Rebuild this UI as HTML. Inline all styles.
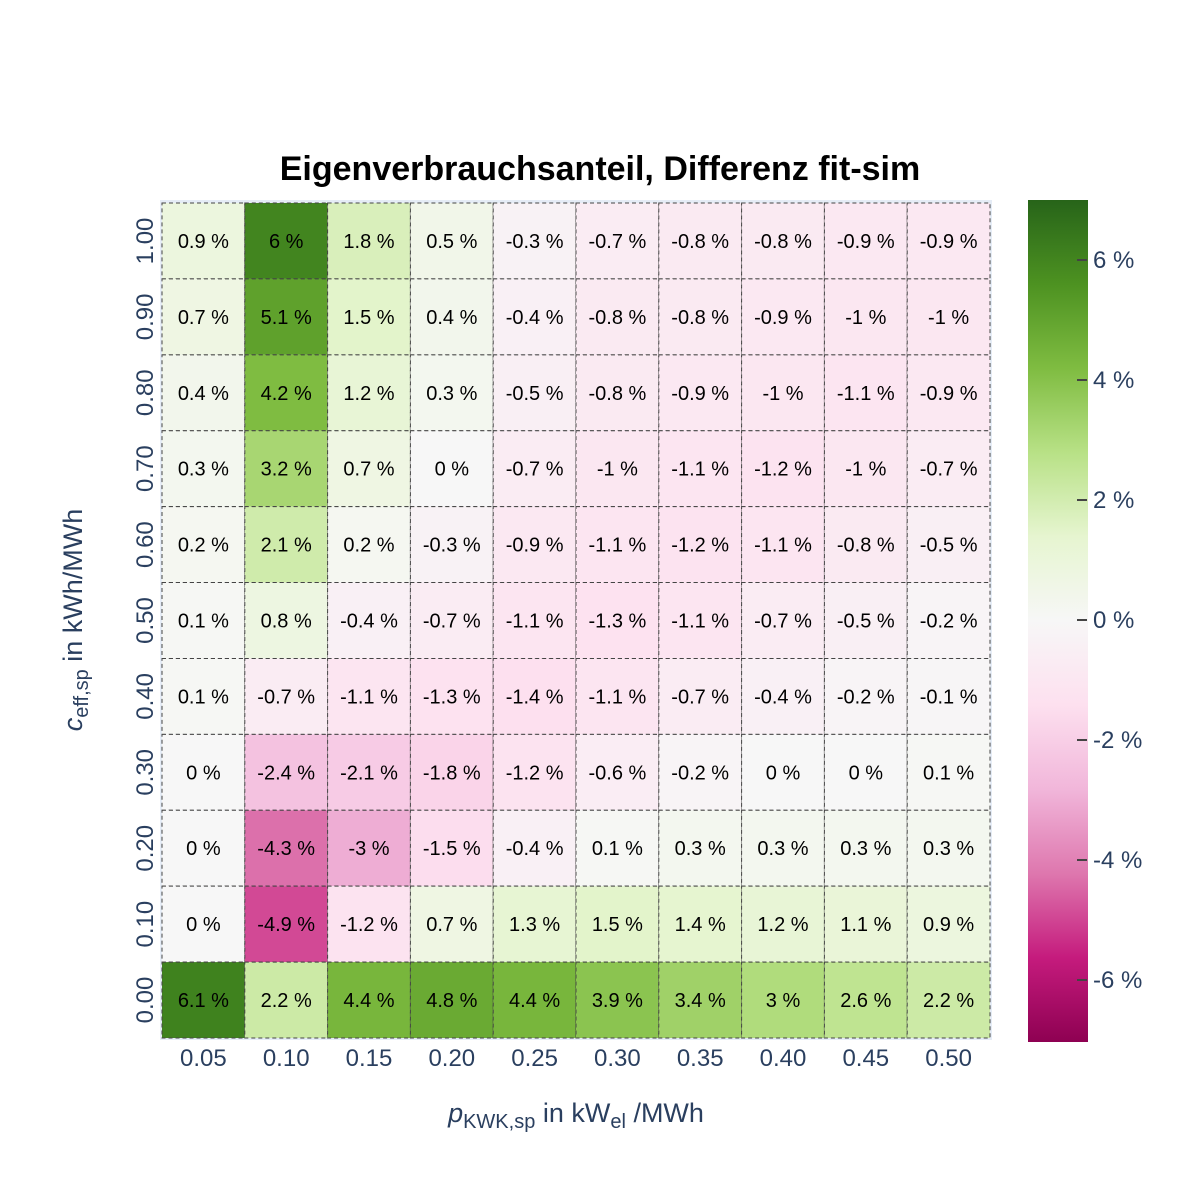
<!DOCTYPE html>
<html><head><meta charset="utf-8"><style>
html,body{margin:0;padding:0;background:#fff;font-family:"Liberation Sans",sans-serif;overflow:hidden}
svg{display:block}
</style></head><body>
<svg id="chart" width="1200" height="1200" xmlns="http://www.w3.org/2000/svg" font-family="Liberation Sans, sans-serif">
<defs>
<linearGradient id="cb" x1="0" y1="1" x2="0" y2="0">
<stop offset="0" stop-color="rgb(142,1,82)"/><stop offset="0.1" stop-color="rgb(197,27,125)"/>
<stop offset="0.2" stop-color="rgb(222,119,174)"/><stop offset="0.3" stop-color="rgb(241,182,218)"/>
<stop offset="0.4" stop-color="rgb(253,224,239)"/><stop offset="0.5" stop-color="rgb(247,247,247)"/>
<stop offset="0.6" stop-color="rgb(230,245,208)"/><stop offset="0.7" stop-color="rgb(184,225,134)"/>
<stop offset="0.8" stop-color="rgb(127,188,65)"/><stop offset="0.9" stop-color="rgb(77,146,33)"/>
<stop offset="1" stop-color="rgb(39,100,25)"/>
</linearGradient></defs>
<text x="600" y="180" text-anchor="middle" font-size="34" font-weight="bold" fill="#000">Eigenverbrauchsanteil, Differenz fit-sim</text>
<rect x="160" y="200" width="832" height="840" fill="#e5ecf6"/>
<g id="cells"></g>
<g id="xt"></g><g id="yt"></g>
<text x="576" y="1122" text-anchor="middle" font-size="27" fill="#2a3f5f"><tspan font-style="italic">p</tspan><tspan font-size="20" dy="6">KWK,sp</tspan><tspan dy="-6"> in kW</tspan><tspan font-size="20" dy="6">el</tspan><tspan dy="-6"> /MWh</tspan></text>
<text transform="translate(82,620) rotate(-90)" text-anchor="middle" font-size="27" fill="#2a3f5f"><tspan font-style="italic">c</tspan><tspan font-size="20" dy="6">eff,sp</tspan><tspan dy="-6"> in kWh/MWh</tspan></text>
<rect x="1028" y="200" width="60" height="842" fill="url(#cb)"/>
<g id="cbt"></g>
</svg>
<script>
const xCats=["0.05","0.10","0.15","0.20","0.25","0.30","0.35","0.40","0.45","0.50"];
const yCats=["1.00","0.90","0.80","0.70","0.60","0.50","0.40","0.30","0.20","0.10","0.00"];
const z=[
[0.9,6,1.8,0.5,-0.3,-0.7,-0.8,-0.8,-0.9,-0.9],
[0.7,5.1,1.5,0.4,-0.4,-0.8,-0.8,-0.9,-1,-1],
[0.4,4.2,1.2,0.3,-0.5,-0.8,-0.9,-1,-1.1,-0.9],
[0.3,3.2,0.7,0,-0.7,-1,-1.1,-1.2,-1,-0.7],
[0.2,2.1,0.2,-0.3,-0.9,-1.1,-1.2,-1.1,-0.8,-0.5],
[0.1,0.8,-0.4,-0.7,-1.1,-1.3,-1.1,-0.7,-0.5,-0.2],
[0.1,-0.7,-1.1,-1.3,-1.4,-1.1,-0.7,-0.4,-0.2,-0.1],
[0,-2.4,-2.1,-1.8,-1.2,-0.6,-0.2,0,0,0.1],
[0,-4.3,-3,-1.5,-0.4,0.1,0.3,0.3,0.3,0.3],
[0,-4.9,-1.2,0.7,1.3,1.5,1.4,1.2,1.1,0.9],
[6.1,2.2,4.4,4.8,4.4,3.9,3.4,3,2.6,2.2]];
const cbTicks=[6,4,2,0,-2,-4,-6];
const zmin=-7,zmax=7;
const scale=[[0,[142,1,82]],[0.1,[197,27,125]],[0.2,[222,119,174]],[0.3,[241,182,218]],[0.4,[253,224,239]],[0.5,[247,247,247]],[0.6,[230,245,208]],[0.7,[184,225,134]],[0.8,[127,188,65]],[0.9,[77,146,33]],[1,[39,100,25]]];
function color(v){let t=(v-zmin)/(zmax-zmin);t=Math.max(0,Math.min(1,t));
for(let i=1;i<scale.length;i++){if(t<=scale[i][0]){const a=scale[i-1],b=scale[i];const f=(t-a[0])/(b[0]-a[0]);
return 'rgb('+a[1].map((c,k)=>Math.round(c+(b[1][k]-c)*f)).join(',')+')';}}return 'rgb(39,100,25)';}
const X0=162,X1=990,Y0=203,Y1=1038;
const cw=(X1-X0)/xCats.length,ch=(Y1-Y0)/yCats.length;
const xs=i=>X0+i*cw, ys=j=>Y0+j*ch;
const cbY=v=>620-(v)*60;
const NS="http://www.w3.org/2000/svg";
function mk(t,a,p){const e=document.createElementNS(NS,t);for(const k in a)e.setAttribute(k,a[k]);p.appendChild(e);return e;}
const cells=document.getElementById('cells');
z.forEach((row,j)=>row.forEach((v,i)=>{
const r=mk('rect',{x:xs(i),y:ys(j),width:cw,height:ch,fill:color(v),stroke:'#444','stroke-width':1,'stroke-dasharray':'4,3'},cells);


const t=mk('text',{x:xs(i)+cw/2,y:ys(j)+ch/2+7,'text-anchor':'middle','font-size':20,fill:'#000'},cells);
t.textContent=v+' %';


}));
const xt=document.getElementById('xt');
xCats.forEach((c,i)=>{const t=mk('text',{x:xs(i)+cw/2,y:1066,'text-anchor':'middle','font-size':24,fill:'#2a3f5f'},xt);t.textContent=c;

});
const yt=document.getElementById('yt');
yCats.forEach((c,j)=>{const yy=ys(j)+ch/2;const t=mk('text',{transform:'translate(153,'+yy+') rotate(-90)','text-anchor':'middle','font-size':24,fill:'#2a3f5f'},yt);t.textContent=c;

});
const cbt=document.getElementById('cbt');
cbTicks.forEach(v=>{const y=cbY(v);
const l=mk('line',{x1:1077,x2:1087,y1:y,y2:y,stroke:'#444','stroke-width':2},cbt);


const t=mk('text',{x:1093,y:y+8,'font-size':24,fill:'#2a3f5f'},cbt);t.textContent=(v<0?'-'+(-v):v)+' %';

});
</script>
</body></html>
